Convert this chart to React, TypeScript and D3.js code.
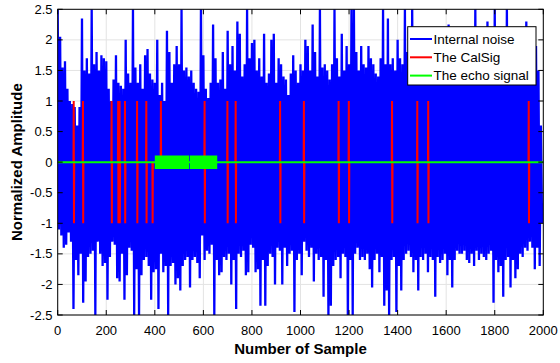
import React from "react";
import * as d3 from "d3";

// ---- data ----
const BIN = 10; // samples per envelope bin
// upper extreme of the internal noise in each 10-sample bin
const noiseHi = [
  2.5, 2.05, 1.55, 1.65, 1.2, 1.0, 0.95, 0.9, 0.6, 0.9,
  2.35, 1.5, 1.7, 1.45, 2.5, 1.6, 1.8, 1.5, 1.75, 1.7,
  1.65, 1.2, 1.0, 1.35, 1.75, 1.3, 1.25, 1.2, 2.0, 1.45,
  1.3, 2.5, 1.55, 1.3, 1.6, 1.2, 1.75, 1.85, 1.45, 1.35,
  1.3, 2.0, 1.1, 1.3, 1.0, 2.15, 1.8, 1.3, 1.6, 1.9,
  1.6, 2.5, 1.5, 1.55, 1.4, 1.5, 1.3, 1.2, 1.15, 2.5,
  1.75, 1.2, 1.05, 1.3, 2.25, 1.7, 1.3, 1.35, 1.8, 1.2,
  2.15, 1.6, 1.9, 1.5, 2.3, 2.1, 1.4, 1.6, 2.5, 1.7,
  1.95, 2.0, 1.5, 1.7, 1.4, 2.1, 1.3, 1.45, 2.0, 2.1,
  1.3, 1.7, 1.6, 1.4, 1.35, 1.1, 1.45, 1.75, 1.5, 1.3,
  1.6, 1.5, 2.0, 1.9, 1.5, 2.25, 1.8, 1.4, 2.5, 1.55,
  1.6, 1.5, 1.35, 1.6, 2.5, 1.7, 1.4, 2.1, 1.5, 1.9,
  1.6, 2.5, 2.5, 1.8, 1.5, 1.9, 1.6, 1.55, 1.9, 1.7,
  1.6, 1.45, 1.4, 1.7, 2.5, 1.6, 2.35, 1.6, 1.7, 1.5,
  2.0, 1.7, 1.6, 2.5, 1.8, 1.7, 2.5, 1.7, 1.9, 1.6,
  2.0, 1.8, 1.7, 1.9, 1.6, 1.8, 1.7, 1.9, 1.6, 1.8,
  1.7, 2.25, 1.6, 1.8, 1.5, 1.9, 1.7, 1.6, 1.9, 1.7,
  1.8, 1.6, 2.5, 1.7, 1.9, 1.6, 1.8, 2.3, 1.7, 1.9,
  2.5, 1.6, 1.8, 1.7, 1.9, 2.5, 1.7, 1.8, 1.6, 1.9,
  1.7, 1.8, 1.6, 2.3, 1.7, 1.9, 1.6, 1.9, 1.5, 0.6,
];
// lower extreme of the internal noise in each 10-sample bin
const noiseLo = [
  -1.1, -1.2, -1.4, -1.35, -1.15, -1.3, -2.4, -1.6, -1.85, -1.5,
  -2.3, -1.95, -1.55, -1.5, -1.45, -2.5, -1.3, -1.5, -1.7, -1.65,
  -2.25, -1.55, -1.3, -1.35, -1.9, -1.95, -1.5, -2.25, -1.85, -1.4,
  -1.45, -2.5, -1.75, -2.5, -1.85, -1.6, -1.55, -1.7, -2.25, -1.8,
  -1.75, -2.4, -1.5, -1.8, -1.7, -2.5, -1.7, -1.65, -2.0, -1.9,
  -2.1, -1.7, -1.6, -1.55, -2.05, -1.6, -1.55, -1.65, -1.9, -1.2,
  -1.6, -1.45, -1.5, -1.35, -2.5, -1.6, -1.85, -1.8, -1.55, -1.6,
  -1.5, -2.0, -1.6, -2.4, -1.5, -1.55, -1.45, -1.85, -1.8, -1.35,
  -1.4, -1.8, -1.75, -2.35, -1.6, -2.35, -1.7, -1.5, -1.55, -2.0,
  -1.4, -1.45, -2.0, -1.4, -1.7, -1.5, -1.45, -2.45, -1.6, -1.5,
  -1.85, -1.3, -1.45, -1.55, -1.4, -1.95, -1.5, -1.6, -1.55, -2.2,
  -1.6, -2.5, -2.35, -1.7, -1.6, -1.55, -1.9, -1.5, -1.55, -2.5,
  -1.6, -2.5, -1.5, -1.4, -1.6, -1.55, -1.6, -1.5, -1.75, -2.05,
  -1.6, -1.5, -1.8, -1.55, -2.35, -2.1, -2.5, -1.6, -1.55, -2.45,
  -1.7, -2.1, -1.6, -1.5, -1.45, -1.55, -1.8, -1.6, -2.1, -1.55,
  -1.6, -1.5, -1.8, -1.55, -1.6, -2.2, -1.55, -1.65, -1.6, -1.5,
  -1.85, -1.6, -2.05, -1.6, -1.45, -1.5, -1.5, -1.45, -1.6, -1.65,
  -1.5, -1.7, -1.45, -1.6, -1.5, -1.55, -1.6, -1.5, -1.45, -2.3,
  -1.6, -1.8, -1.7, -2.2, -1.6, -1.55, -2.05, -1.6, -1.9, -1.75,
  -1.5, -1.55, -1.4, -1.45, -1.3, -1.4, -1.75, -1.4, -1.7, -1.0,
];
// calibration signal pulses: sample, high value, low value
const calSamples = [66, 104, 222, 249, 255, 277, 327, 365, 390, 425, 605, 699, 733, 916, 1014, 1157, 1199, 1377, 1481, 1526, 1940];
const calHigh = [1, 1, 1, 1, 1, 1, 1, 1, 0, 1, 1, 1, 1, 1, 1, 1, 1, 1, 1, 1, 1];
const calLow = [-1, -1, -1, -1, -1, -1, -1, -1, -1, 0, -1, -1, -1, -1, -1, -1, -1, -1, -1, -1, -1];
// echo signal bursts (start sample, end sample, amplitude)
const echoStart = [400, 544];
const echoEnd = [541, 657];
const echoAmp = [0.11, 0.11];
const echoRange = [0, 2000];

const xTicks = [0, 200, 400, 600, 800, 1000, 1200, 1400, 1600, 1800, 2000];
const yTicks = [-2.5, -2, -1.5, -1, -0.5, 0, 0.5, 1, 1.5, 2, 2.5];
const legendLabels = ["Internal noise", "The CalSig", "The echo signal"];

const FONT = "'Liberation Sans', Arial, Helvetica, sans-serif";
const BLUE = "#0000ff";
const RED = "#ff0000";
const GREEN = "#00ff00";

export default function App() {
  const W = 560, H = 363;
  const L = 57.7, R = 543.3, T = 9.3, B = 315;
  const x = d3.scaleLinear().domain([0, 2000]).range([L, R]);
  const y = d3.scaleLinear().domain([-2.5, 2.5]).range([B, T]);

  const noisePts: [number, number][] = [];
  noiseHi.forEach((h, i) => {
    noisePts.push([i * BIN, h]);
    noisePts.push([i * BIN + BIN / 2, noiseLo[i]]);
  });
  const line = d3.line<[number, number]>().x((d) => x(d[0])).y((d) => y(d[1]));
  const noisePath = line(noisePts) || "";

  const calPaths = calSamples.map((s, i) =>
    line([
      [s - 1, 0],
      [s, calHigh[i]],
      [s + 1, calLow[i]],
      [s + 2, 0],
    ]) || ""
  );

  const area = d3
    .area<[number, number]>()
    .x((d) => x(d[0]))
    .y0((d) => y(-d[1]))
    .y1((d) => y(d[1]));
  const echoAreas = echoStart.map((s, i) =>
    area([
      [s, echoAmp[i]],
      [echoEnd[i], echoAmp[i]],
    ]) || ""
  );

  const tick = 5;
  const legendColors = [BLUE, RED, GREEN];
  const lg = { x: 407.7, y: 26.7, w: 128.3, h: 58.3 };

  return (
    <svg width={W} height={H} style={{ position: "absolute", left: 0, top: 0, background: "#fff" }} fontFamily={FONT}>
      <defs>
        <clipPath id="plot">
          <rect x={L} y={T} width={R - L} height={B - T} />
        </clipPath>
      </defs>
      <rect x={0} y={0} width={W} height={H} fill="#fff" />
      {/* grid */}
      <g stroke="#e3e3e3" strokeWidth={1}>
        {xTicks.map((t) => (
          <line key={"gx" + t} x1={x(t)} x2={x(t)} y1={T} y2={B} />
        ))}
        {yTicks.map((t) => (
          <line key={"gy" + t} x1={L} x2={R} y1={y(t)} y2={y(t)} />
        ))}
      </g>
      <g clipPath="url(#plot)">
        <path d={noisePath} fill="none" stroke={BLUE} strokeWidth={2.3} strokeLinejoin="bevel" />
        {calPaths.map((p, i) => (
          <path key={"c" + i} d={p} fill="none" stroke={RED} strokeWidth={2} />
        ))}
        <line x1={x(echoRange[0])} x2={x(echoRange[1])} y1={y(0)} y2={y(0)} stroke={GREEN} strokeWidth={2} />
        {echoAreas.map((p, i) => (
          <path key={"e" + i} d={p} fill={GREEN} />
        ))}
      </g>
      {/* axes box and ticks */}
      <rect x={L} y={T} width={R - L} height={B - T} fill="none" stroke="#000" strokeWidth={1} />
      <g stroke="#000" strokeWidth={1}>
        {xTicks.map((t) => (
          <g key={"tx" + t}>
            <line x1={x(t)} x2={x(t)} y1={B} y2={B - tick} />
            <line x1={x(t)} x2={x(t)} y1={T} y2={T + tick} />
          </g>
        ))}
        {yTicks.map((t) => (
          <g key={"ty" + t}>
            <line x1={L} x2={L + tick} y1={y(t)} y2={y(t)} />
            <line x1={R} x2={R - tick} y1={y(t)} y2={y(t)} />
          </g>
        ))}
      </g>
      <g fontSize={13} fill="#000">
        {xTicks.map((t) => (
          <text key={"lx" + t} x={x(t)} y={335} textAnchor="middle">
            {String(t)}
          </text>
        ))}
        {yTicks.map((t) => (
          <text key={"ly" + t} x={52.5} y={y(t) + 4.6} textAnchor="end">
            {String(t)}
          </text>
        ))}
      </g>
      <text x={(L + R) / 2} y={354} textAnchor="middle" fontSize={15} fontWeight="bold">
        Number of Sample
      </text>
      <text
        transform={`translate(22,${(T + B) / 2}) rotate(-90)`}
        textAnchor="middle"
        fontSize={15}
        fontWeight="bold"
      >
        Normalized Amplitude
      </text>
      {/* legend */}
      <rect x={lg.x} y={lg.y} width={lg.w} height={lg.h} fill="#fff" stroke="#000" strokeWidth={1} />
      {legendLabels.map((lab, i) => {
        const cy = 39 + i * 18.3;
        return (
          <g key={lab}>
            <line x1={410} x2={432} y1={cy} y2={cy} stroke={legendColors[i]} strokeWidth={2} />
            <text x={433.5} y={cy + 4.8} fontSize={13.5}>
              {lab}
            </text>
          </g>
        );
      })}
    </svg>
  );
}
